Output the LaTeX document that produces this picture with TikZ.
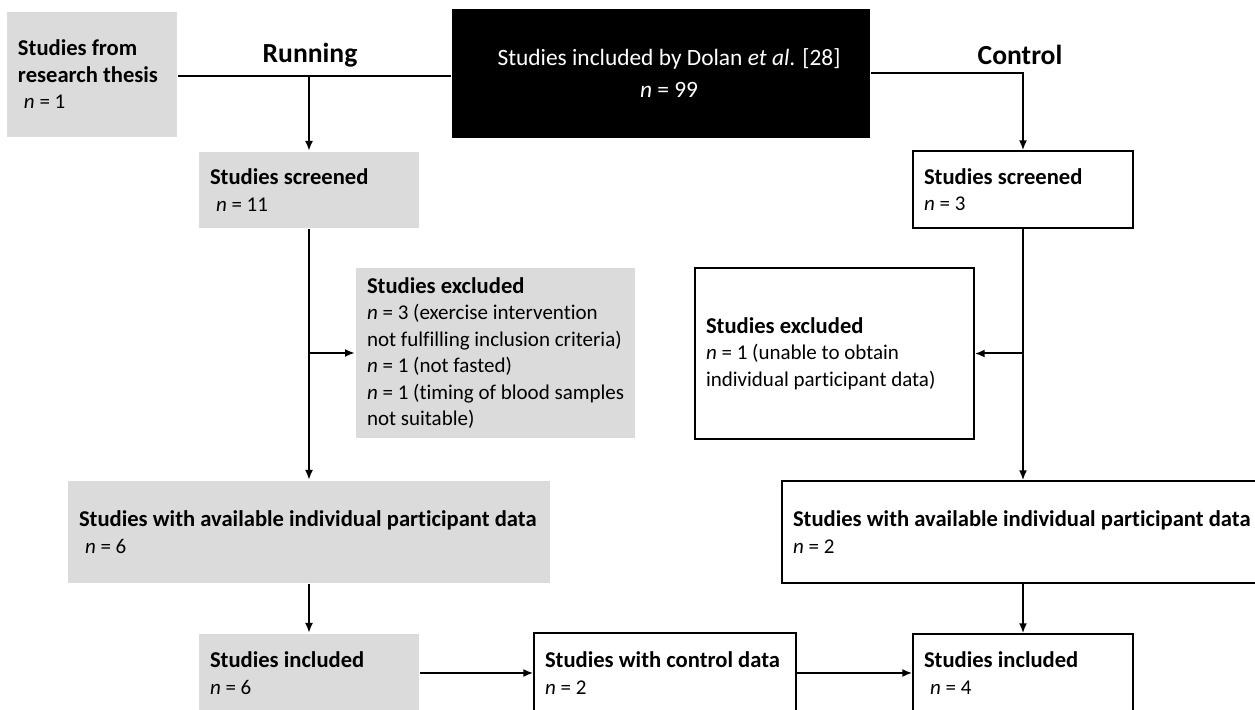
\documentclass[tikz,border=0pt]{standalone}
\usepackage{fontspec}
\setmainfont{Carlito}[Ligatures=NoCommon]
\usetikzlibrary{arrows.meta}
\definecolor{boxgrey}{HTML}{DADBDA}
\newcommand{\boxhead}[1]{{\fontsize{11.3}{13.25}\selectfont\bfseries #1}}
\tikzset{
  box/.style={rectangle, inner xsep=5.5pt, inner ysep=0pt, align=flush left, font=\fontsize{10.5}{13.25}\selectfont,
    execute at begin node={\spaceskip=0pt\xspaceskip=0pt\rightskip=-8pt plus 1fil\relax}},
  greybox/.style={box, fill=boxgrey},
  whitebox/.style={box, draw, line width=0.65pt, fill=white},
  darkbox/.style={box, fill=black, text=white, align=flush center, font=\fontsize{11.7}{13.25}\selectfont,
    execute at begin node={\spaceskip=0pt\xspaceskip=0pt\relax}},
  armlabel/.style={font=\fontsize{13.8}{16}\selectfont\bfseries}
}

\begin{document}
\begin{tikzpicture}[x=0.5pt, y=-0.5pt, line width=1pt, >={Latex[length=5pt,width=4pt]}]
            \clip (0,0) rectangle (1255,710);

            \node[greybox, text width=74pt, minimum height=62.5pt] (thesis) at (92,74.5) {\boxhead{Studies from}\\\boxhead{research thesis}\\\hspace{3pt}\textit{n} = 1};
            \node[darkbox, text width=198pt, minimum height=64.5pt] (dolan) at (661,73.5) {Studies included by Dolan \textit{et al}. [28]\\[2.75pt]\textit{n} = 99};
            \node[armlabel] (runlabel) at (310,55) {Running};
            \node[armlabel] (ctllabel) at (1020,55) {Control};

            \node[greybox, text width=99pt, minimum height=38pt] (runscreen) at (309,190) {\boxhead{Studies screened}\\\hspace{3pt}\textit{n} = 11};
            \node[whitebox, text width=99pt, minimum height=38.5pt] (ctlscreen) at (1023,189.5) {\boxhead{Studies screened}\\\textit{n} = 3};

            \node[greybox, text width=128.5pt, minimum height=85pt] (runexcl) at (495.5,353) {\boxhead{Studies excluded}\\\textit{n} = 3 (exercise intervention\\not fulfilling inclusion criteria)\\\textit{n} = 1 (not fasted)\\\textit{n} = 1 (timing of blood samples\\not suitable)};
            \node[whitebox, text width=128.5pt, minimum height=85.5pt] (ctlexcl) at (834.5,353.5) {\boxhead{Studies excluded}\\\textit{n} = 1 (unable to obtain\\individual participant data)};

            \node[greybox, text width=230pt, minimum height=51pt] (runavail) at (309,532) {\boxhead{Studies with available individual participant data}\\\hspace{3pt}\textit{n} = 6};
            \node[whitebox, text width=230pt, minimum height=51pt] (ctlavail) at (1023,532) {\boxhead{Studies with available individual participant data}\\\textit{n} = 2};

            \node[greybox, text width=99pt, minimum height=39pt] (runincl) at (309,673) {\boxhead{Studies included}\\\textit{n} = 6};
            \node[whitebox, text width=120pt, minimum height=40pt] (ctldata) at (665,673) {\boxhead{Studies with control data}\\\textit{n} = 2};
            \node[whitebox, text width=99pt, minimum height=39pt] (ctlincl) at (1023,673) {\boxhead{Studies included}\\\hspace{3pt}\textit{n} = 4};

            \coordinate (runjoin) at (309,76);
            \draw (thesis.east |- runjoin) -- (dolan.west |- runjoin);
            \draw[->] (runjoin) -- (runscreen);
            \draw[->] (dolan.east) -| (ctlscreen);

            \draw[->] (runscreen) -- (runavail);
            \draw[->] (runscreen.south |- runexcl.west) -- (runexcl);
            \draw[->] (ctlscreen) -- (ctlavail);
            \draw[->] (ctlscreen.south |- ctlexcl.east) -- (ctlexcl);

            \draw[->] (runavail) -- (runincl);
            \draw[->] (ctlavail) -- (ctlincl);
            \draw[->] (runincl) -- (ctldata);
            \draw[->] (ctldata) -- (ctlincl);
        \end{tikzpicture}
\end{document}
